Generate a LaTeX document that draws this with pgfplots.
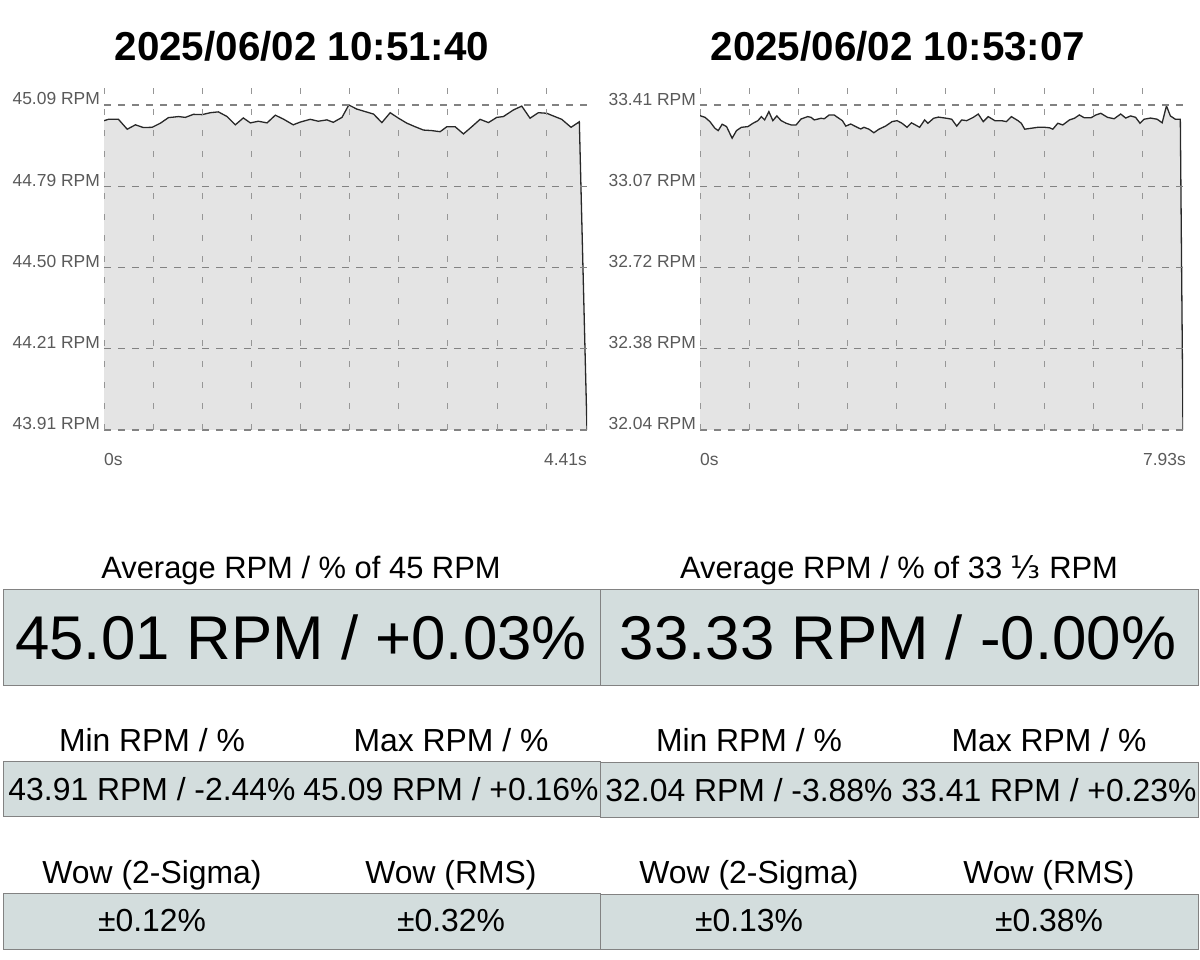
\documentclass[border=0pt]{standalone}
\usepackage{pgfplots}
\usepackage{pgfplotstable}
\pgfplotsset{compat=1.18}
\usepackage{fontspec}
\setmainfont{Liberation Sans}
\newfontfamily\dejavu{DejaVu Sans}
\definecolor{boxc}{RGB}{211,221,221}
\definecolor{boxedge}{RGB}{130,130,130}
\definecolor{fillc}{RGB}{228,228,228}
\definecolor{gridc}{RGB}{130,130,130}
\definecolor{vgridc}{RGB}{150,150,150}
\definecolor{tickc}{RGB}{90,90,90}
\definecolor{linec}{RGB}{40,40,40}

\pgfplotstableread{
x y
0.000 45.033
0.041 45.038
0.132 45.038
0.212 45.002
0.287 45.018
0.360 45.008
0.440 45.009
0.515 45.024
0.588 45.044
0.680 45.048
0.743 45.045
0.816 45.056
0.896 45.055
0.971 45.062
1.044 45.065
1.124 45.048
1.199 45.018
1.272 45.043
1.336 45.025
1.409 45.031
1.489 45.025
1.564 45.053
1.637 45.039
1.728 45.018
1.792 45.028
1.883 45.038
1.956 45.031
2.036 45.036
2.093 45.027
2.173 45.045
2.235 45.090
2.309 45.075
2.385 45.066
2.461 45.057
2.537 45.026
2.613 45.062
2.689 45.042
2.765 45.024
2.841 45.011
2.917 44.999
2.993 44.997
3.069 44.993
3.130 45.011
3.206 45.011
3.282 44.985
3.358 45.011
3.434 45.038
3.510 45.026
3.586 45.045
3.647 45.048
3.738 45.072
3.814 45.086
3.890 45.042
3.966 45.062
4.042 45.060
4.103 45.050
4.179 45.038
4.264 45.009
4.340 45.029
4.410 43.910
}\leftdata

\pgfplotstableread{
x y
0.000 33.365
0.082 33.358
0.163 33.340
0.245 33.312
0.299 33.302
0.364 33.329
0.436 33.319
0.527 33.270
0.599 33.302
0.680 33.316
0.788 33.319
0.870 33.333
0.951 33.344
1.007 33.361
1.061 33.347
1.131 33.382
1.196 33.344
1.261 33.364
1.333 33.344
1.415 33.333
1.496 33.326
1.578 33.326
1.659 33.351
1.767 33.361
1.823 33.358
1.876 33.347
1.986 33.354
2.040 33.352
2.121 33.368
2.203 33.368
2.257 33.358
2.338 33.344
2.394 33.321
2.475 33.330
2.557 33.319
2.638 33.309
2.692 33.316
2.774 33.308
2.855 33.293
2.937 33.308
3.046 33.321
3.154 33.340
3.236 33.344
3.317 33.333
3.399 33.316
3.471 33.335
3.536 33.326
3.606 33.316
3.688 33.347
3.742 33.333
3.835 33.354
3.916 33.359
4.052 33.354
4.133 33.350
4.215 33.321
4.296 33.347
4.378 33.344
4.487 33.358
4.569 33.372
4.650 33.340
4.732 33.361
4.841 33.344
4.949 33.344
5.031 33.340
5.112 33.361
5.221 33.344
5.275 33.333
5.331 33.308
5.438 33.312
5.548 33.316
5.657 33.316
5.739 33.314
5.793 33.308
5.874 33.333
5.956 33.326
6.065 33.347
6.147 33.354
6.228 33.368
6.310 33.356
6.418 33.356
6.499 33.368
6.581 33.375
6.690 33.358
6.799 33.352
6.907 33.372
6.989 33.355
7.070 33.364
7.152 33.358
7.224 33.333
7.289 33.350
7.397 33.355
7.506 33.350
7.588 33.335
7.658 33.406
7.723 33.364
7.805 33.350
7.886 33.350
7.930 32.040
}\rightdata

\pgfplotsset{rpmaxis/.style={
  scale only axis, width=483bp, height=348bp,
  axis line style={draw=none},
  tick style={draw=none},
  axis on top,
  ymajorgrids,
  major grid style={gridc, line width=1.2bp, dash pattern=on 7bp off 7bp},
  xtick=\empty,
  yticklabel style={anchor=base east, inner sep=0pt, xshift=-4bp, font=\fontsize{17.5}{20}\selectfont, text=tickc},
  extra x tick style={grid=major, major grid style={vgridc, line width=0.9bp, dash pattern=on 6bp off 15bp}, tick style={draw=none}},
  extra x tick labels={},
}}

\begin{document}
\begin{tikzpicture}
\path[use as bounding box, fill=white] (0,0) rectangle (1200bp,960bp);

% ---------- left chart ----------
\begin{axis}[rpmaxis, at={(104bp,530bp)}, anchor=south west,
  xmin=0, xmax=4.41, ymin=43.91, ymax=45.1735,
  ytick={43.91,44.205,44.50,44.795,45.09},
  yticklabels={43.91 RPM,44.21 RPM,44.50 RPM,44.79 RPM,45.09 RPM},
  extra x ticks={0,0.4486,0.8972,1.3459,1.7945,2.2431,2.6917,3.1403,3.5890,4.0376}]
\addplot[fill=fillc, draw=none] table[x=x,y=y] {\leftdata} \closedcycle;
\addplot[draw=linec, line width=1.3bp] table[x=x,y=y] {\leftdata};
\end{axis}

% ---------- right chart ----------
\begin{axis}[rpmaxis, at={(700bp,530bp)}, anchor=south west,
  xmin=0, xmax=7.93, ymin=32.04, ymax=33.507,
  ytick={32.04,32.3825,32.725,33.0675,33.41},
  yticklabels={32.04 RPM,32.38 RPM,32.72 RPM,33.07 RPM,33.41 RPM},
  extra x ticks={0,0.8067,1.6134,2.4202,3.2269,4.0336,4.8403,5.6470,6.4538,7.2605}]
\addplot[fill=fillc, draw=none] table[x=x,y=y] {\rightdata} \closedcycle;
\addplot[draw=linec, line width=1.3bp] table[x=x,y=y] {\rightdata};
\end{axis}

\begin{scope}[x=1bp,y=-1bp,yshift=960bp]
% x labels
\begin{scope}[every node/.style={inner sep=0pt, text=tickc, font=\fontsize{17.5}{20}\selectfont}]
\node[anchor=base west] at (104,466) {0s};
\node[anchor=base east] at (587,466) {4.41s};
\node[anchor=base west] at (700,466) {0s};
\node[anchor=base east] at (1186,466) {7.93s};
\end{scope}

% titles
\begin{scope}[every node/.style={inner sep=0pt, font=\bfseries\fontsize{40.5}{48}\selectfont}]
\node[anchor=base] at (302,61) {2025/06/02 10:51:40};
\node[anchor=base] at (898,61) {2025/06/02 10:53:07};
\end{scope}

% boxes
\begin{scope}[fill=boxc, draw=boxedge, line width=1bp]
\filldraw (3,590) rectangle (600,686);
\filldraw (600,590) rectangle (1198,686);
\filldraw (3,762) rectangle (600,817);
\filldraw (600,763) rectangle (1198,818);
\filldraw (3,894) rectangle (600,950);
\filldraw (600,895) rectangle (1198,950);
\end{scope}

% labels
\begin{scope}[every node/.style={inner sep=0pt, font=\fontsize{31}{36}\selectfont}]
\node[anchor=base] at (301,579) {Average RPM / \% of 45 RPM};
\node[anchor=base] at (899,579) {Average RPM / \% of 33 {\dejavu ⅓} RPM};
\end{scope}
\begin{scope}[every node/.style={inner sep=0pt, font=\fontsize{62}{70}\selectfont}]
\node[anchor=base] at (301,660) {45.01 RPM / +0.03\%};
\node[anchor=base] at (898,660) {33.33 RPM / -0.00\%};
\end{scope}
\begin{scope}[every node/.style={inner sep=0pt, font=\fontsize{32}{38}\selectfont}]
\node[anchor=base] at (152,752) {Min RPM / \%};
\node[anchor=base] at (451,752) {Max RPM / \%};
\node[anchor=base] at (749,752) {Min RPM / \%};
\node[anchor=base] at (1049,752) {Max RPM / \%};
\node[anchor=base] at (152,801) {43.91 RPM / -2.44\%};
\node[anchor=base] at (451,801) {45.09 RPM / +0.16\%};
\node[anchor=base] at (749,802) {32.04 RPM / -3.88\%};
\node[anchor=base] at (1049,802) {33.41 RPM / +0.23\%};
\node[anchor=base] at (152,884) {Wow (2-Sigma)};
\node[anchor=base] at (451,884) {Wow (RMS)};
\node[anchor=base] at (749,884) {Wow (2-Sigma)};
\node[anchor=base] at (1049,884) {Wow (RMS)};
\node[anchor=base] at (152,932) {±0.12\%};
\node[anchor=base] at (451,932) {±0.32\%};
\node[anchor=base] at (749,932) {±0.13\%};
\node[anchor=base] at (1049,932) {±0.38\%};
\end{scope}
\end{scope}
\end{tikzpicture}
\end{document}
